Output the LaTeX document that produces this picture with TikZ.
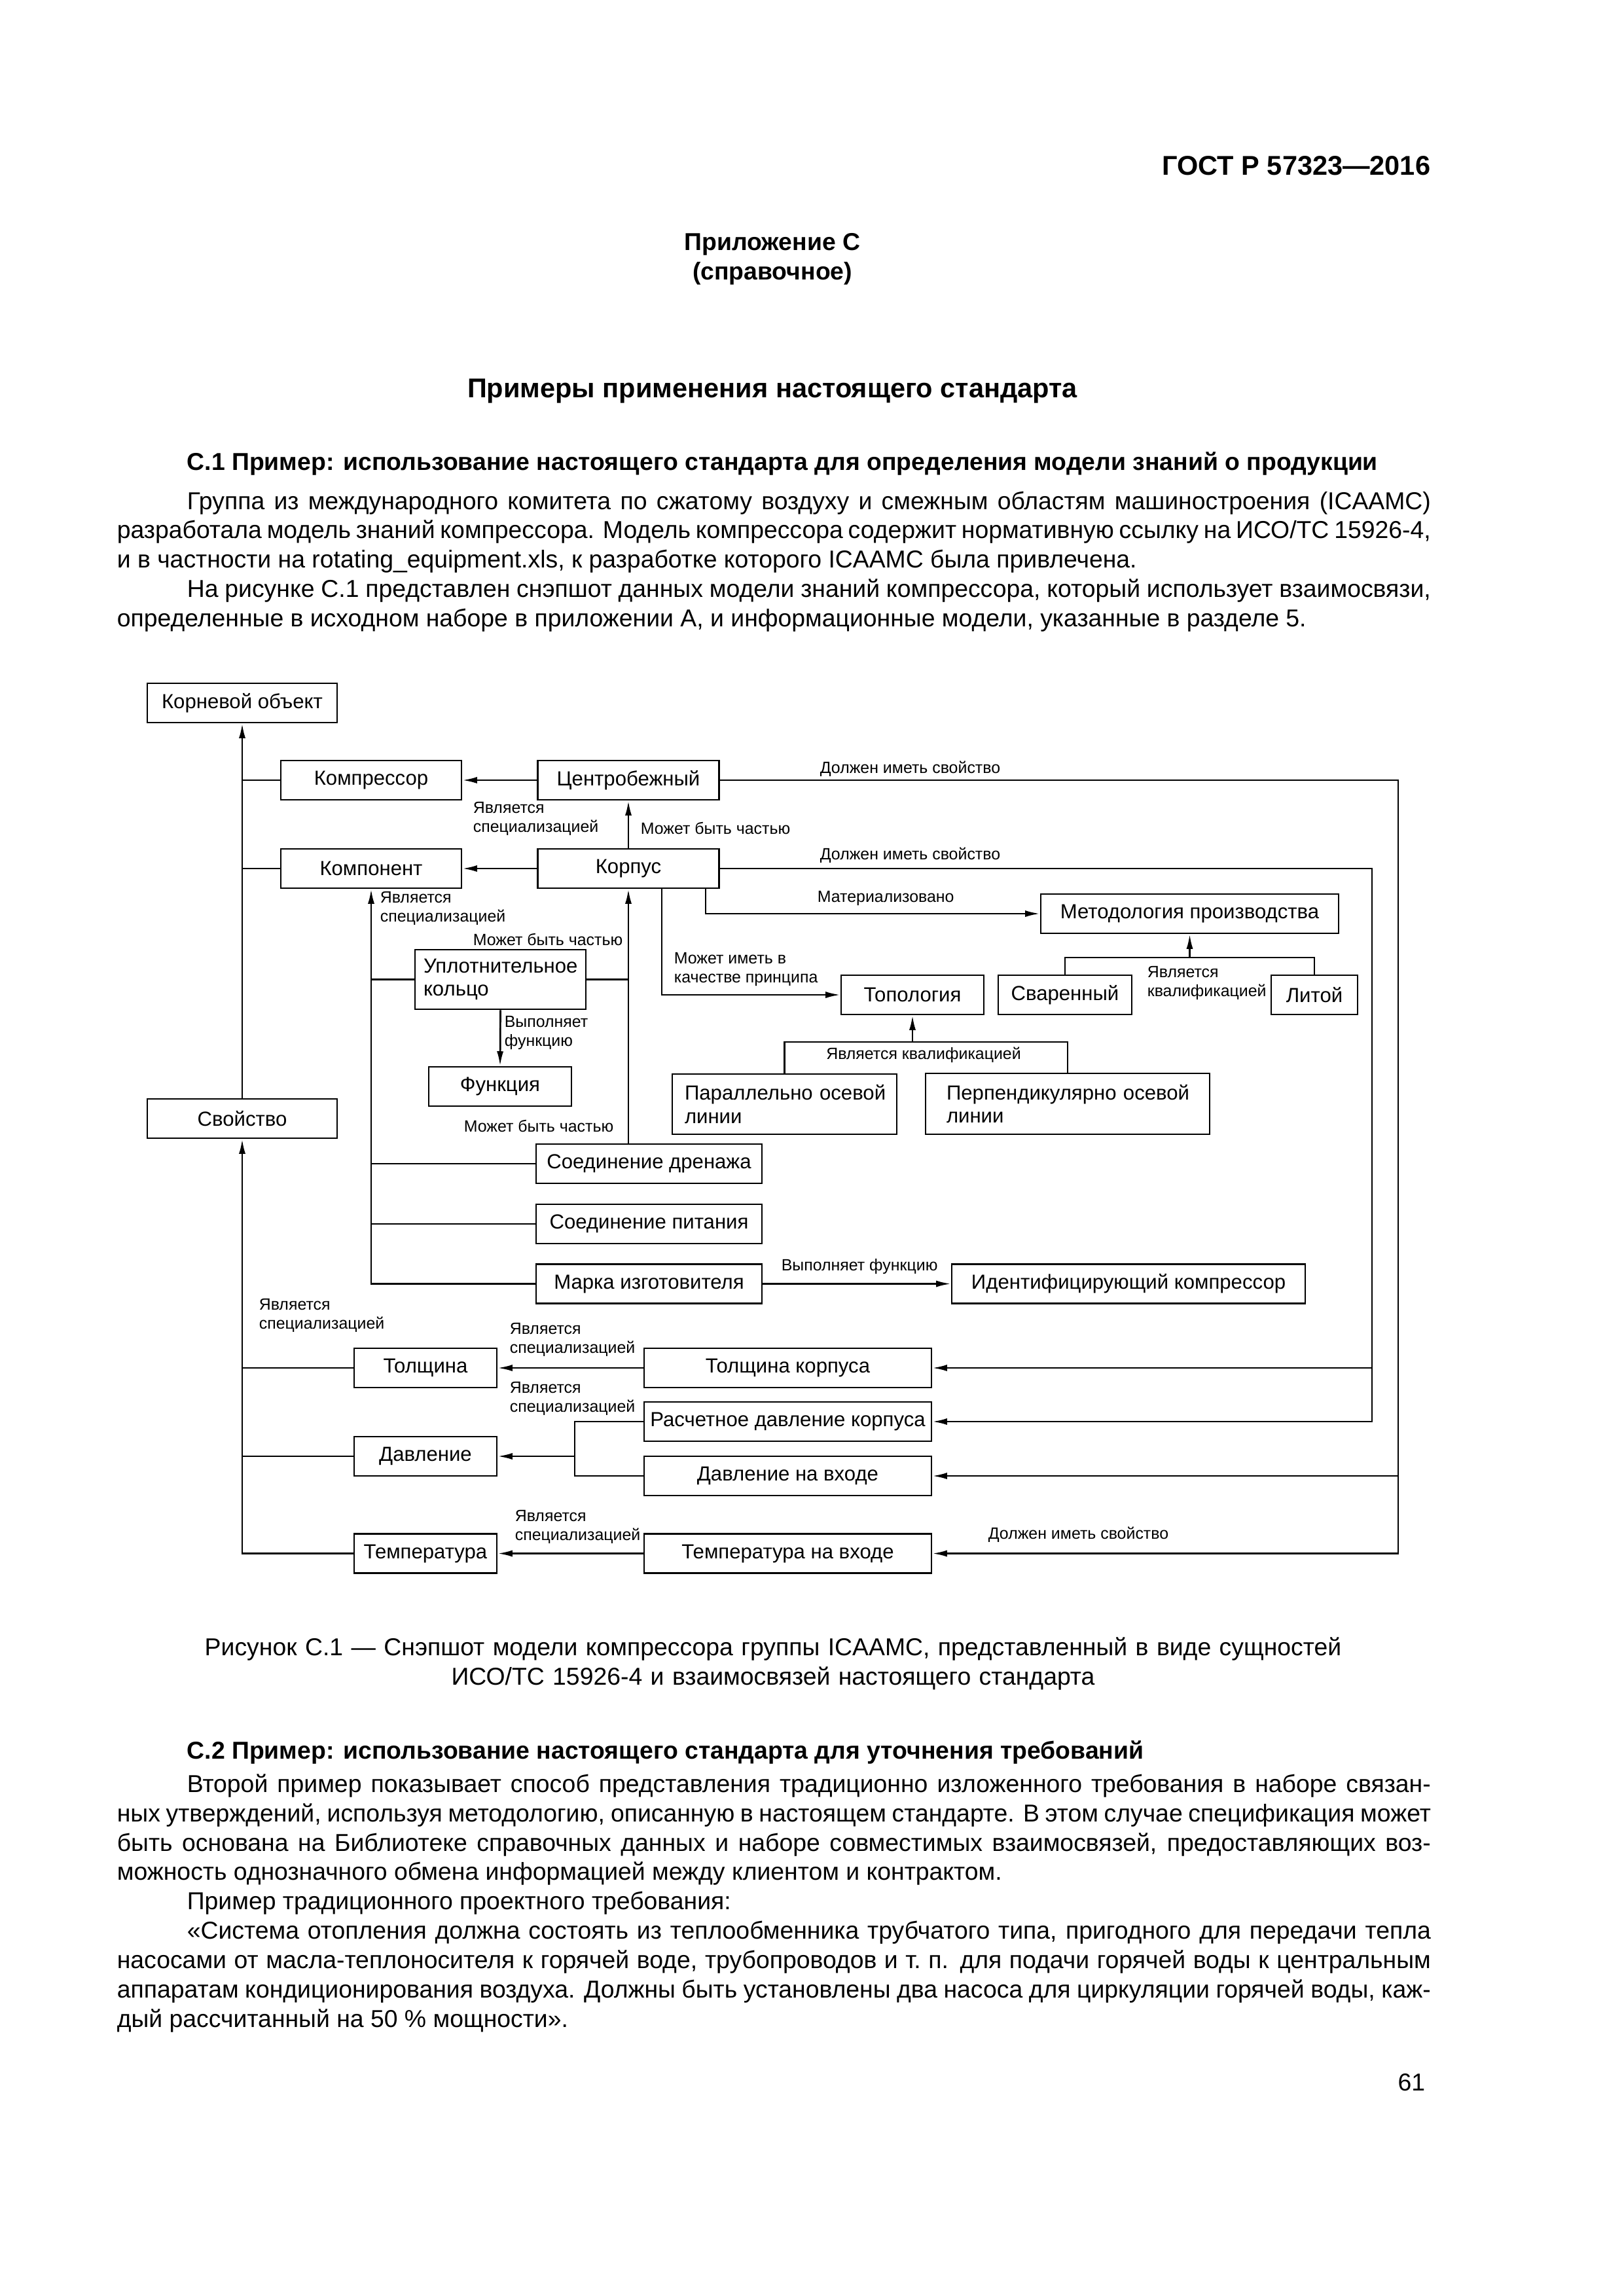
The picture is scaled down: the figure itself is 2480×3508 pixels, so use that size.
\documentclass[tikz,border=0pt]{standalone}
\usepackage{fontspec}
\setmainfont{Liberation Sans}
\usetikzlibrary{arrows.meta}
\newlength\pxu
\setlength\pxu{0.08468mm}
\newcommand\bodyfont{\fontsize{9}{10.84}\selectfont}
\newcommand\boxfont{\fontsize{7.5}{8.6}\selectfont}
\newcommand\relfont{\fontsize{6}{7}\selectfont}

\begin{document}
\begin{tikzpicture}[x=0.08468mm, y=-0.08468mm,
    box/.style={draw, line width=0.65pt, inner sep=0pt, font=\boxfont, minimum height=60\pxu},
    tbox/.style={box, align=left},
    rel/.style={font=\relfont, align=left, anchor=west, inner sep=0pt},
    link/.style={line width=0.65pt},
    arr/.style={link, -{Latex[length=1.9mm, width=0.85mm]}},
    para/.style={font=\bodyfont, text width=2007\pxu, align=justify, inner sep=0pt, anchor=base west}]
    \useasboundingbox (0,0) rectangle (2480,3508);

    % Шапка страницы
    \node[font=\bfseries\fontsize{10}{12}\selectfont, anchor=base east, inner sep=0pt] (gost) at (2186,267) {ГОСТ Р 57323—2016};
    \node[font=\bfseries\bodyfont, anchor=base, inner sep=0pt] (annex) at (1180,382) {Приложение С};
    \node[font=\bfseries\bodyfont, anchor=base, inner sep=0pt] (annexk) at (1180,427) {(справочное)};
    \node[font=\bfseries\fontsize{10}{12}\selectfont, anchor=base, inner sep=0pt] (title) at (1180,607) {Примеры применения настоящего стандарта};

    % Раздел С.1
    \node[font=\bfseries\bodyfont, anchor=base west, inner sep=0pt] (secone) at (285,718) {С.1 Пример: использование настоящего стандарта для определения модели знаний о продукции};
    \node[para] (pone) at (178,778) {\noindent\hspace*{107\pxu}Группа из международного комитета по сжатому воздуху и смежным областям машиностроения (ICAAMC)\linebreak
        разработала модель знаний компрессора. Модель компрессора содержит нормативную ссылку на ИСО/ТС 15926-4,\linebreak
        и в частности на rotating\_equipment.xls, к разработке которого ICAAMC была привлечена.\par
        \noindent\hspace*{107\pxu}На рисунке С.1 представлен снэпшот данных модели знаний компрессора, который использует взаимосвязи,\linebreak
        определенные в исходном наборе в приложении А, и информационные модели, указанные в разделе~5.};

    % Сущности
    \node[box, minimum width=290\pxu] (root) at (370,1074) {Корневой объект};
    \node[box, minimum width=276\pxu] (compr) at (567,1192) {Компрессор};
    \node[box, minimum width=277\pxu] (centr) at (960,1192) {Центробежный};
    \node[box, minimum width=276\pxu] (comp) at (567,1327) {Компонент};
    \node[box, minimum width=277\pxu] (korp) at (960,1327) {Корпус};
    \node[tbox, text width=235\pxu, inner xsep=13\pxu, minimum height=91\pxu] (upl) at (764.5,1496.5) {Уплотнительное\\кольцо};
    \node[box, minimum width=218\pxu] (func) at (764,1660) {Функция};
    \node[box, minimum width=290\pxu] (prop) at (370,1709) {Свойство};
    \node[box, minimum width=345\pxu] (drain) at (991.5,1778) {Соединение дренажа};
    \node[box, minimum width=345\pxu] (power) at (991.5,1870) {Соединение питания};
    \node[box, minimum width=345\pxu] (brand) at (991.5,1961.5) {Марка изготовителя};
    \node[box, minimum width=540\pxu] (ident) at (1724,1961.5) {Идентифицирующий компрессор};
    \node[box, minimum width=455\pxu] (method) at (1817.5,1396) {Методология производства};
    \node[box, minimum width=218\pxu] (topo) at (1394,1520) {Топология};
    \node[box, minimum width=204\pxu] (weld) at (1627,1520) {Сваренный};
    \node[box, minimum width=132\pxu] (cast) at (2008,1520) {Литой};
    \node[tbox, text width=305\pxu, inner xsep=19\pxu, minimum height=92\pxu] (par) at (1198.5,1687) {Параллельно~осевой\\линии};
    \node[tbox, text width=370\pxu, inner xsep=32\pxu, minimum height=93\pxu] (perp) at (1631,1686.5) {Перпендикулярно~осевой\\линии};
    \node[box, minimum width=218\pxu] (thick) at (650,2090) {Толщина};
    \node[box, minimum width=439\pxu] (thickk) at (1203.5,2090) {Толщина корпуса};
    \node[box, minimum width=439\pxu] (dpress) at (1203.5,2172) {Расчетное давление корпуса};
    \node[box, minimum width=218\pxu] (press) at (650,2225) {Давление};
    \node[box, minimum width=439\pxu] (inpress) at (1203.5,2255) {Давление на входе};
    \node[box, minimum width=218\pxu] (temp) at (650,2373.5) {Температура};
    \node[box, minimum width=439\pxu] (intemp) at (1203.5,2373.5) {Температура на входе};

    % Точки ветвления
    \coordinate (railA) at (2136,1192);
    \coordinate (railB) at (2096,1327);
    \coordinate (mqual) at (1817.5,1463);
    \coordinate (tqual) at (1394,1592);
    \coordinate (pjoin) at (878,2225);

    % Левый ствол
    \draw[arr] (prop.north) -- (root.south);
    \draw[arr] (temp.west) -| (prop.south);
    \draw[link] (compr.west) -- (compr.west -| root.south);
    \draw[link] (comp.west) -- (comp.west -| root.south);
    \draw[link] (thick.west) -- (thick.west -| prop.south);
    \draw[link] (press.west) -- (press.west -| prop.south);

    % Специализации и части
    \draw[arr] (centr.west) -- (compr.east);
    \draw[arr] (korp.west) -- (comp.east);
    \draw[arr] (korp.north) -- (centr.south);
    \draw[arr] (brand.west) -| (comp.south);
    \draw[link] (upl.west) -- (upl.west -| comp.south);
    \draw[link] (drain.west) -- (drain.west -| comp.south);
    \draw[link] (power.west) -- (power.west -| comp.south);
    \draw[arr] (drain.north -| korp.south) -- (korp.south);
    \draw[link] (upl.east) -- (upl.east -| korp.south);
    \draw[arr] (upl.south) -- (func.north);
    \draw[arr] (brand.east) -- (ident.west);

    % Корпус: принцип и методология
    \draw[arr] ([xshift=51\pxu]korp.south) |- (topo.west);
    \draw[arr] ([xshift=118\pxu]korp.south) |- (method.west);
    \draw[link] (weld.north) |- (mqual) -| (cast.north);
    \draw[arr] (mqual) -- (method.south);
    \draw[link] (par.north) |- (tqual) -| (perp.north);
    \draw[arr] (tqual) -- (topo.south);

    % Свойства
    \draw[arr] (centr.east) -- (railA) |- (intemp.east);
    \draw[arr] (inpress.east -| railA) -- (inpress.east);
    \draw[arr] (korp.east) -- (railB) |- (dpress.east);
    \draw[arr] (thickk.east -| railB) -- (thickk.east);
    \draw[arr] (thickk.west) -- (thick.east);
    \draw[link] (dpress.west) -| (pjoin) |- (inpress.west);
    \draw[arr] (pjoin) -- (press.east);
    \draw[arr] (intemp.west) -- (temp.east);

    % Подписи взаимосвязей
    \node[rel] (lspa) at (722,1251) {Является\\специализацией};
    \node[rel] (lparta) at (978,1265) {Может быть частью};
    \node[rel] (lhasa) at (1252,1175) {Должен иметь свойство};
    \node[rel] (lhasb) at (1252,1307) {Должен иметь свойство};
    \node[rel] (lspb) at (580,1388) {Является\\специализацией};
    \node[rel] (lpartb) at (722,1435) {Может быть частью};
    \node[rel] (lmat) at (1248,1372) {Материализовано};
    \node[rel] (lprin) at (1029,1481) {Может иметь в\\качестве принципа};
    \node[rel] (lfunc) at (770,1578) {Выполняет\\функцию};
    \node[rel] (lpartc) at (708,1720) {Может быть частью};
    \node[rel] (lquala) at (1752,1502) {Является\\квалификацией};
    \node[rel, anchor=center] (lqualb) at (1411,1612) {Является квалификацией};
    \node[rel] (lfuncb) at (1193,1935) {Выполняет функцию};
    \node[rel] (lspc) at (395,2010) {Является\\специализацией};
    \node[rel] (lspd) at (778,2047) {Является\\специализацией};
    \node[rel] (lspe) at (778,2137) {Является\\специализацией};
    \node[rel] (lspf) at (786,2333) {Является\\специализацией};
    \node[rel] (lhasc) at (1509,2345) {Должен иметь свойство};

    % Подпись рисунка
    \node[font=\bodyfont, text width=2007\pxu, align=center, anchor=base, inner sep=0pt] (cap) at (1181,2529) {Рисунок С.1 — Снэпшот модели компрессора группы ICAAMC, представленный в виде сущностей\\ИСО/ТС 15926-4 и взаимосвязей настоящего стандарта};

    % Раздел С.2
    \node[font=\bfseries\bodyfont, anchor=base west, inner sep=0pt] (sectwo) at (285,2687) {С.2 Пример: использование настоящего стандарта для уточнения требований};
    \node[para] (ptwo) at (178,2738) {\noindent\hspace*{107\pxu}Второй пример показывает способ представления традиционно изложенного требования в наборе связан-\linebreak
        ных утверждений, используя методологию, описанную в настоящем стандарте. В этом случае спецификация может\linebreak
        быть основана на Библиотеке справочных данных и наборе совместимых взаимосвязей, предоставляющих воз-\linebreak
        можность однозначного обмена информацией между клиентом и контрактом.\par
        \noindent\hspace*{107\pxu}Пример традиционного проектного требования:\par
        \noindent\hspace*{107\pxu}«Система отопления должна состоять из теплообменника трубчатого типа, пригодного для передачи тепла\linebreak
        насосами от масла-теплоносителя к горячей воде, трубопроводов и~т.~п. для подачи горячей воды к центральным\linebreak
        аппаратам кондиционирования воздуха. Должны быть установлены два насоса для циркуляции горячей воды, каж-\linebreak
        дый рассчитанный на 50~\% мощности».};

    % Номер страницы
    \node[font=\bodyfont, anchor=base east, inner sep=0pt] (pageno) at (2178,3194) {61};
\end{tikzpicture}
\end{document}
